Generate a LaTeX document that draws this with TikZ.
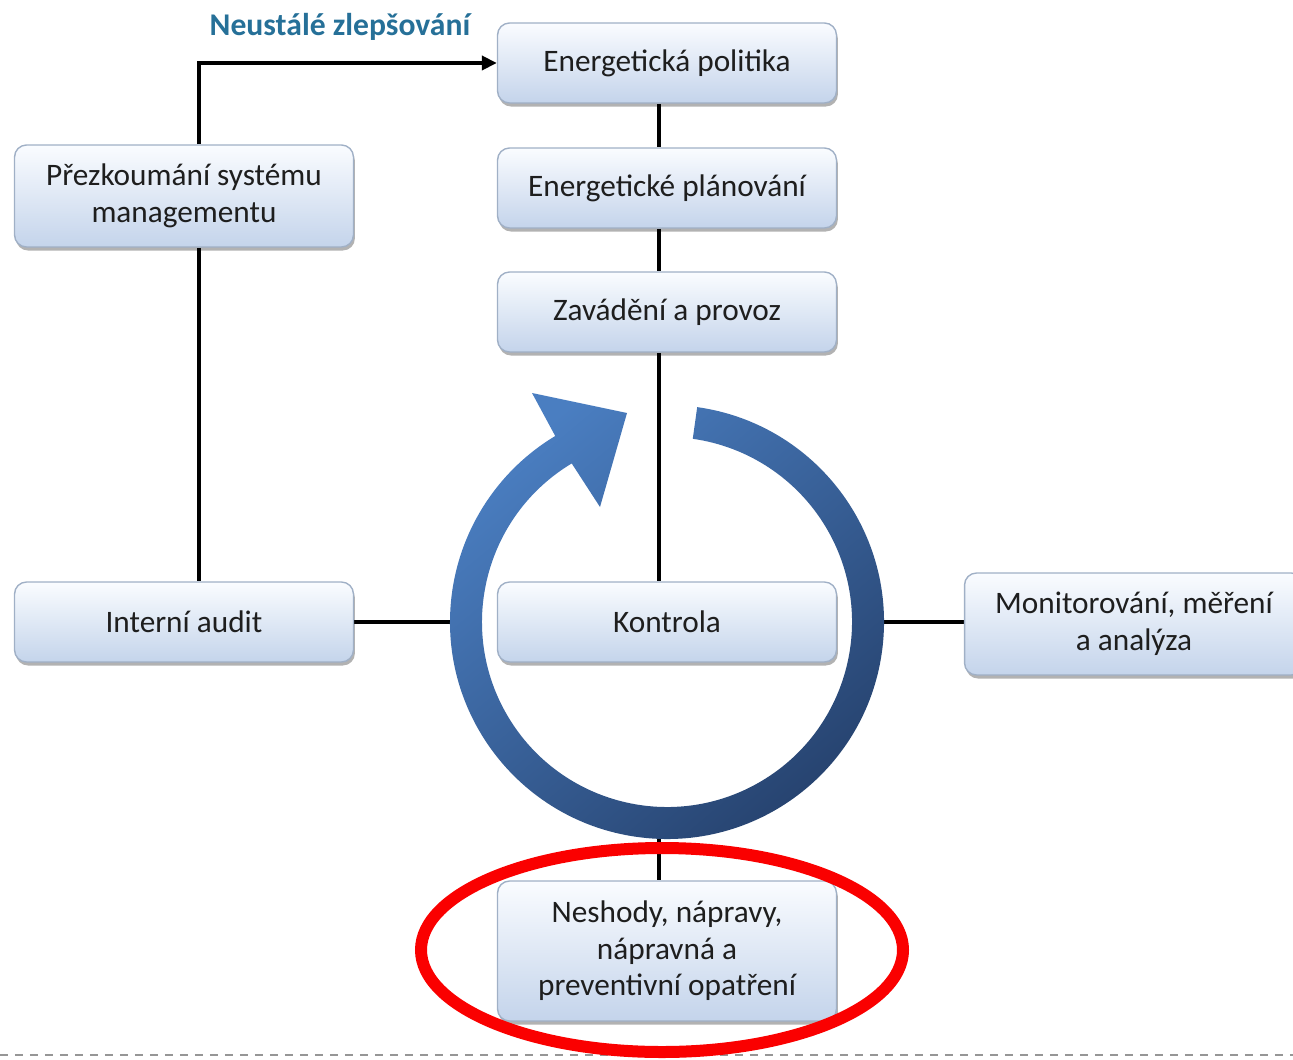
\documentclass[tikz,border=0pt]{standalone}
\usepackage{fontspec}
\setmainfont{Carlito}
\usetikzlibrary{arrows.meta,shadows,calc}

\definecolor{boxtop}{RGB}{250,252,255}
\definecolor{boxbottom}{RGB}{196,212,235}
\definecolor{boxborder}{RGB}{160,176,198}
\definecolor{textc}{RGB}{30,30,30}
\definecolor{labelc}{RGB}{38,112,152}
\definecolor{ringlight}{RGB}{74,126,193}
\definecolor{ringdark}{RGB}{38,66,110}
\definecolor{markred}{RGB}{250,0,0}
\definecolor{dashgray}{RGB}{150,150,150}

\pgfdeclarelayer{background}
\pgfsetlayers{background,main}

\tikzset{
  stage/.style={draw=boxborder, line width=0.8pt, rounded corners=0.24cm,
    top color=boxtop, bottom color=boxbottom, minimum width=6.78cm,
    minimum height=1.6cm, text=textc, align=center, inner sep=2pt,
    font=\fontsize{17.8}{20.8}\selectfont,
    drop shadow={shadow xshift=0.8pt, shadow yshift=-2pt, fill=black, opacity=0.3}},
  link/.style={line width=2.1pt, black},
}

\begin{document}
\begin{tikzpicture}[x=0.02cm, y=-0.02cm]
  \useasboundingbox (0,0) rectangle (1293,1060);
  \clip (0,0) rectangle (1293,1060);

  % reference verticals and ring contact points for the connectors
  \coordinate (spine) at (659,0);
  \coordinate (lspine) at (199,0);
  \coordinate (ringW) at (452,622);
  \coordinate (ringE) at (882,622);
  \coordinate (ringS) at (659,832);

  % stages
  \node[stage] (pol)  at (667,63)  {Energetická politika};
  \node[stage] (plan) at (667,188) {Energetické plánování};
  \node[stage] (zav)  at (667,312) {Zavádění a provoz};
  \node[stage] (kon)  at (667,622) {Kontrola};
  \node[stage, minimum height=2.04cm] (prez) at (184,196) {Přezkoumání systému\\managementu};
  \node[stage] (aud)  at (184,622) {Interní audit};
  \node[stage, minimum height=2.04cm] (mon) at (1134,624) {Monitorování, měření\\a analýza};
  \node[stage, minimum height=2.8cm] (nes) at (667,951) {Neshody, nápravy,\\nápravná a\\preventivní opatření};

  \node[font=\bfseries\fontsize{18}{20}\selectfont, text=labelc] (lbl) at (340,27) {Neustálé zlepšování};

  % connectors, kept behind the stages
  \begin{pgfonlayer}{background}
    \draw[link] (pol.south -| spine) -- (plan.north -| spine);
    \draw[link] (plan.south -| spine) -- (zav.north -| spine);
    \draw[link] (zav.south -| spine) -- (kon.north -| spine);
    \draw[link] (ringS) -- (nes.north -| spine);
    \draw[link, -{Triangle[length=0.3cm, width=0.28cm]}] (prez.north -| lspine) |- (pol.west);
    \draw[link] (prez.south -| lspine) -- (aud.north -| lspine);
    \draw[link] (aud.east) -- (ringW);
    \draw[link] (ringE) -- (mon.west |- ringE);
    % page separator
    \draw[dashgray, line width=0.9pt, dash pattern=on 0.17cm off 0.13cm] (0,1055) -- (1293,1055);
  \end{pgfonlayer}

  % improvement cycle arrow
  \begin{scope}[shift={(667,622)}, y=0.02cm]
    \shade[top color=ringlight, bottom color=ringdark, shading angle=40]
      (82:217) arc[start angle=82, end angle=-239, radius=217]
      -- (-135,229) -- (-40,209) -- (-67,115)
      -- (-239:185) arc[start angle=-239, end angle=82, radius=185] -- cycle;
  \end{scope}

  % highlight of the corrective-action stage
  \draw[markred, line width=0.24cm] (662,950) ellipse[x radius=241, y radius=102];
\end{tikzpicture}
\end{document}
